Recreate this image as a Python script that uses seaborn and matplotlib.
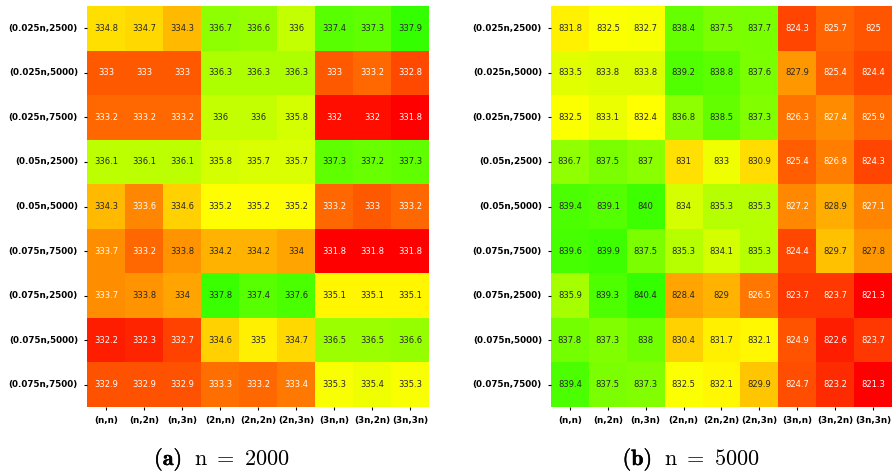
import matplotlib
matplotlib.use("Agg")
import matplotlib.pyplot as plt
import matplotlib.patheffects as pe
import numpy as np
import seaborn as sns
from matplotlib.colors import LinearSegmentedColormap

# Données
row_labels = ["(0.025n,2500)", "(0.025n,5000)", "(0.025n,7500)",
              "(0.05n,2500)", "(0.05n,5000)", "(0.075n,7500)",
              "(0.075n,2500)", "(0.075n,5000)", "(0.075n,7500)"]
col_labels = ["(n,n)", "(n,2n)", "(n,3n)", "(2n,n)", "(2n,2n)", "(2n,3n)",
              "(3n,n)", "(3n,2n)", "(3n,3n)"]

vals_2000 = [
    [334.8, 334.7, 334.3, 336.7, 336.6, 336.0, 337.4, 337.3, 337.9],
    [333.0, 333.0, 333.0, 336.3, 336.3, 336.3, 333.0, 333.2, 332.8],
    [333.2, 333.2, 333.2, 336.0, 336.0, 335.8, 332.0, 332.0, 331.8],
    [336.1, 336.1, 336.1, 335.8, 335.7, 335.7, 337.3, 337.2, 337.3],
    [334.3, 333.6, 334.6, 335.2, 335.2, 335.2, 333.2, 333.0, 333.2],
    [333.7, 333.2, 333.8, 334.2, 334.2, 334.0, 331.8, 331.8, 331.8],
    [333.7, 333.8, 334.0, 337.8, 337.4, 337.6, 335.1, 335.1, 335.1],
    [332.2, 332.3, 332.7, 334.6, 335.0, 334.7, 336.5, 336.5, 336.6],
    [332.9, 332.9, 332.9, 333.3, 333.2, 333.4, 335.3, 335.4, 335.3],
]
vals_5000 = [
    [831.8, 832.5, 832.7, 838.4, 837.5, 837.7, 824.3, 825.7, 825.0],
    [833.5, 833.8, 833.8, 839.2, 838.8, 837.6, 827.9, 825.4, 824.4],
    [832.5, 833.1, 832.4, 836.8, 838.5, 837.3, 826.3, 827.4, 825.9],
    [836.7, 837.5, 837.0, 831.0, 833.0, 830.9, 825.4, 826.8, 824.3],
    [839.4, 839.1, 840.0, 834.0, 835.3, 835.3, 827.2, 828.9, 827.1],
    [839.6, 839.9, 837.5, 835.3, 834.1, 835.3, 824.4, 829.7, 827.8],
    [835.9, 839.3, 840.4, 828.4, 829.0, 826.5, 823.7, 823.7, 821.3],
    [837.8, 837.3, 838.0, 830.4, 831.7, 832.1, 824.9, 822.6, 823.7],
    [839.4, 837.5, 837.3, 832.5, 832.1, 829.9, 824.7, 823.2, 821.3],
]

plt.rcParams["mathtext.fontset"] = "cm"

fig = plt.figure(figsize=(8.92, 4.72), dpi=100)
ax1 = fig.add_axes([0.0975, 0.1377, 0.3834, 0.8496])
ax2 = fig.add_axes([0.6177, 0.1377, 0.3823, 0.8496])

# (axe, valeurs, position du jaune, lettre, texte, x de la lettre)
panels = [
    (ax1, vals_2000, 0.56, r"$\mathbf{(a)}$", r"$\mathrm{n}\ =\ 2000$", 182 / 892),
    (ax2, vals_5000, 0.58, r"$\mathbf{(b)}$", r"$\mathrm{n}\ =\ 5000$", 652 / 892),
]

for ax, vals, mid, letter, caption, lx in panels:
    cmap = LinearSegmentedColormap.from_list(
        "ryg", [(0.0, "#ff0000"), (mid, "#ffff00"), (1.0, "#33ff00")])
    sns.heatmap(np.array(vals), ax=ax, cmap=cmap, annot=True, fmt="g",
                annot_kws={"fontsize": 6}, cbar=False,
                xticklabels=col_labels, yticklabels=row_labels)
    ax.tick_params(axis="both", labelsize=6.3, length=2.5, width=0.8, pad=4)
    for lab in ax.get_xticklabels() + ax.get_yticklabels():
        lab.set_fontweight("bold")
    ax.set_yticklabels(ax.get_yticklabels(), rotation=0)
    ax.set_xticklabels(ax.get_xticklabels(), rotation=0)
    # légende sous chaque carte
    fig.text(lx, 0.0148, letter, ha="right", va="baseline", fontsize=16,
             path_effects=[pe.withStroke(linewidth=0.3, foreground="black")])
    fig.text(lx + 12 / 892, 0.0148, caption, ha="left", va="baseline",
             fontsize=16)

fig.savefig("out.png", dpi=100)
